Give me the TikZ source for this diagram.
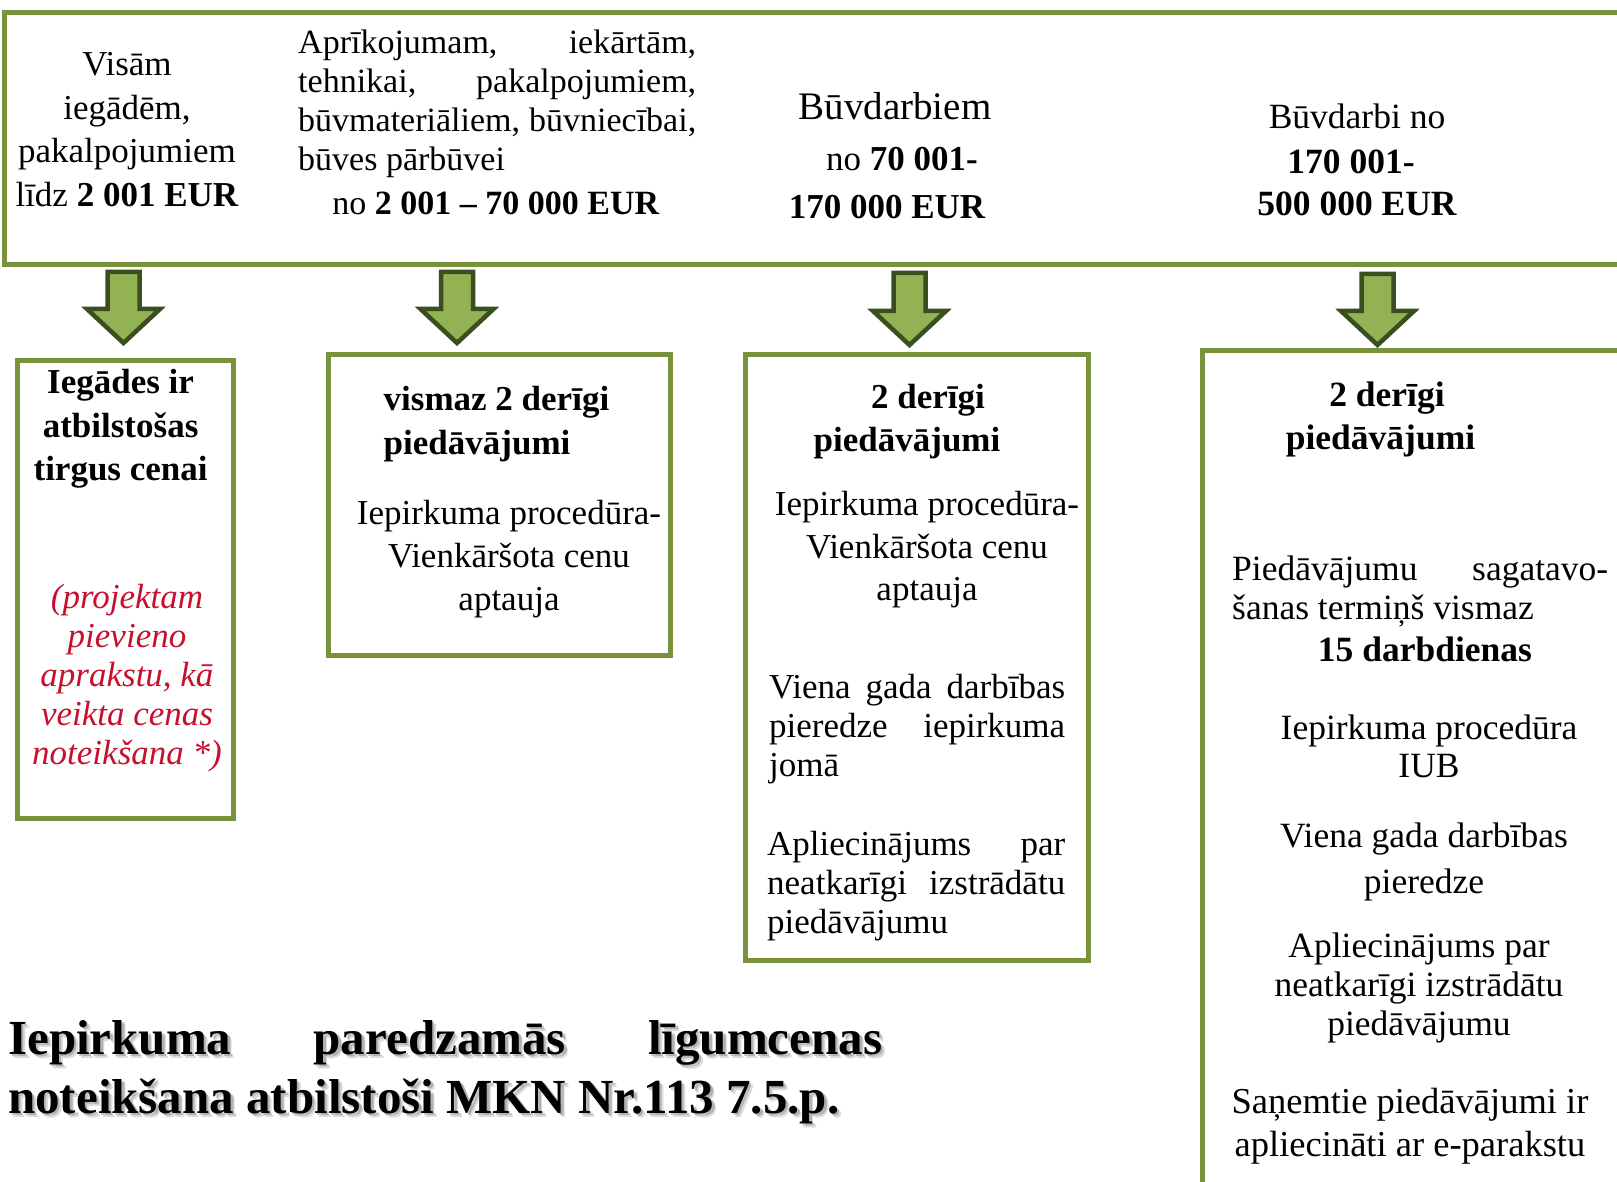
\documentclass[tikz,border=0pt]{standalone}
\usepackage{fontspec}
\setmainfont{Liberation Serif}
\definecolor{boxgreen}{RGB}{119,147,60}
\definecolor{arrowfill}{RGB}{146,178,84}
\definecolor{arrowline}{RGB}{58,78,32}
\definecolor{notered}{RGB}{200,16,46}
\newcommand{\fs}[2]{\fontsize{#1}{#2}\selectfont}
\newcommand{\J}[2]{\makebox[#1][s]{\spaceskip=0pt\xspaceskip=0pt #2}}
\newcommand{\greenarrow}[3]{%
  \draw[garrow] (#1-16,#2) -- (#1+16,#2) -- (#1+16,#3-34) -- (#1+36.5,#3-34)
    -- (#1,#3) -- (#1-36.5,#3-34) -- (#1-16,#3-34) -- cycle;}
\tikzset{
  gbox/.style={draw=boxgreen, line width=5pt, inner sep=0pt},
  txt/.style={inner sep=0pt, align=center, text=black},
  jtxt/.style={inner sep=0pt, align=left, anchor=west, text=black},
  garrow/.style={draw=arrowline, fill=arrowfill, line width=4.5pt, line join=miter},
}
\begin{document}
\begin{tikzpicture}[x=1pt,y=-1pt]
\useasboundingbox (0,0) rectangle (1617,1182);
\clip (0,0) rectangle (1617,1182);
\fill[white] (0,0) rectangle (1617,1182);

% top box
\node[gbox, minimum width=1636pt, minimum height=252.5pt] (top) at (822,138.75) {};
\node[txt, font={\fs{35}{43.7}}] (t1) at (127,129.5) {Visām\\iegādēm,\\pakalpojumiem\\līdz \textbf{2 001 EUR}};
\node[jtxt, text width=398pt, font={\fs{34}{39}}] (t2a) at (298,103.5)
  {\J{398pt}{Aprīkojumam, iekārtām,}\\\J{398pt}{tehnikai, pakalpojumiem,}\\\J{398pt}{būvmateriāliem, būvniecībai,}\\\spaceskip=0pt būves pārbūvei};
\node[txt, font={\fs{34}{39}}] (t2b) at (496,203) {no \textbf{2 001 – 70 000 EUR}};
\node[txt, font={\fs{39}{44}}] (t3a) at (895,106) {Būvdarbiem};
\node[txt, font={\fs{35}{44}}] (t3b) at (902,159) {no \textbf{70 001-}};
\node[txt, font={\fs{35}{44}\bfseries}] (t3c) at (887,207) {170 000 EUR};
\node[txt, font={\fs{35.5}{44}}] (t4a) at (1357,116) {Būvdarbi no};
\node[txt, font={\fs{35.5}{44}\bfseries}] (t4b) at (1351,162) {170 001-};
\node[txt, font={\fs{35.5}{44}\bfseries}] (t4c) at (1357,204) {500 000 EUR};

% arrows
\greenarrow{123.5}{272}{343}
\greenarrow{457}{272}{343}
\greenarrow{909.5}{273}{345}
\greenarrow{1377.5}{274}{345}

% box 1
\node[gbox, minimum width=216pt, minimum height=458pt] (b1) at (125,589) {};
\node[txt, font={\fs{35}{43.7}\bfseries}] (b1a) at (120.6,429) {Iegādes ir\\atbilstošas\\tirgus cenai};
\node[txt, text=notered, font={\fs{35}{39}\itshape}] (b1b) at (127,678) {(projektam\\pievieno\\aprakstu, kā\\veikta cenas\\noteikšana *)};

% box 2
\node[gbox, minimum width=342.5pt, minimum height=300.5pt] (b2) at (499.25,504.75) {};
\node[txt, align=left, anchor=west, font={\fs{35}{43.5}\bfseries}] (b2a) at (383.5,424) {vismaz 2 derīgi\\piedāvājumi};
\node[txt, font={\fs{35}{43}}] (b2b) at (509,559) {Iepirkuma procedūra-\\Vienkāršota cenu\\aptauja};

% box 3
\node[gbox, minimum width=343pt, minimum height=606pt] (b3) at (916.5,657) {};
\node[txt, font={\fs{35}{43}\bfseries}] (b3a) at (928,400) {2 derīgi};
\node[txt, font={\fs{35}{43}\bfseries}] (b3b) at (907,443) {piedāvājumi};
\node[txt, font={\fs{35}{42.5}}] (b3c) at (927,550) {Iepirkuma procedūra-\\Vienkāršota cenu\\aptauja};
\node[jtxt, text width=296pt, font={\fs{35}{39}}] (b3d) at (769,729)
  {\J{296pt}{Viena gada darbības}\\\J{296pt}{pieredze iepirkuma}\\jomā};
\node[jtxt, text width=298pt, font={\fs{35}{39}}] (b3e) at (767,886)
  {\J{298pt}{Apliecinājums par}\\\J{298pt}{neatkarīgi izstrādātu}\\piedāvājumu};

% box 4
\node[gbox, minimum width=438pt, minimum height=870pt] (b4) at (1421,785) {};
\node[txt, font={\fs{35.5}{43}\bfseries}] (b4a) at (1387,398) {2 derīgi};
\node[txt, font={\fs{35.5}{43}\bfseries}] (b4b) at (1380.5,441) {piedāvājumi};
\node[jtxt, text width=376pt, font={\fs{35.5}{39}}] (b4c) at (1232,591)
  {\J{376pt}{Piedāvājumu sagatavo-}\\\spaceskip=0pt šanas termiņš vismaz};
\node[txt, font={\fs{35.5}{43}\bfseries}] (b4d) at (1425,649) {15 darbdienas};
\node[txt, font={\fs{35.5}{38}}] (b4e) at (1429,746) {Iepirkuma procedūra\\IUB};
\node[txt, font={\fs{35.5}{46.5}}] (b4f) at (1424,862) {Viena gada darbības\\pieredze};
\node[txt, font={\fs{35.5}{39.3}}] (b4g) at (1419,988) {Apliecinājums par\\neatkarīgi izstrādātu\\piedāvājumu};
\node[txt, font={\fs{36.5}{43.5}}] (b4h) at (1410,1126) {Saņemtie piedāvājumi ir\\apliecināti ar e-parakstu};

% title with soft shadow
\node[jtxt, text width=874pt, text=black!40, opacity=0.35, font={\fs{49}{59}\bfseries}] (titleshadowA) at (12,1076)
  {\J{874pt}{Iepirkuma paredzamās līgumcenas}\\\spaceskip=0pt noteikšana atbilstoši MKN Nr.113 7.5.p.};
\node[jtxt, text width=874pt, text=black!50, opacity=0.45, font={\fs{49}{59}\bfseries}] (titleshadowB) at (10.5,1074.5)
  {\J{874pt}{Iepirkuma paredzamās līgumcenas}\\\spaceskip=0pt noteikšana atbilstoši MKN Nr.113 7.5.p.};
\node[jtxt, text width=874pt, font={\fs{49}{59}\bfseries}] (title) at (8,1072)
  {\J{874pt}{Iepirkuma paredzamās līgumcenas}\\\spaceskip=0pt noteikšana atbilstoši MKN Nr.113 7.5.p.};
\end{tikzpicture}
\end{document}
